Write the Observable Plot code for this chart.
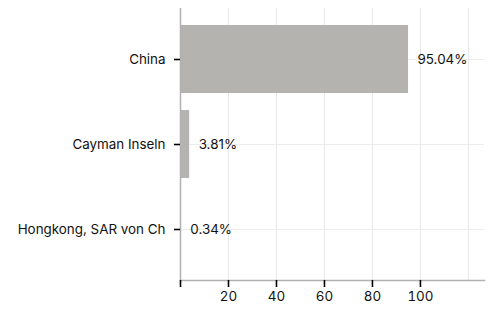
<!DOCTYPE html>
<html>
<head>
<meta charset="utf-8">
<script src="https://cdn.jsdelivr.net/npm/d3@7"></script>
<script src="https://cdn.jsdelivr.net/npm/@observablehq/plot@0.6"></script>
<style>
  html, body { margin: 0; padding: 0; background: #fff; }
  svg { font-family: Inter, "Noto Sans", sans-serif; }
</style>
</head>
<body>
<div id="chart"></div>
<script>
const categories = ["China", "Cayman Inseln", "Hongkong, SAR von Ch"];
const values = [95.04, 3.81, 0.34];
const labels = ["95.04%", "3.81%", "0.34%"];
const xTicks = [0, 20, 40, 60, 80, 100];
const xGrid = [20, 40, 60, 80, 100, 120];

const data = categories.map((c, i) => ({ cat: c, value: values[i], label: labels[i] }));

const chart = Plot.plot({
  width: 492,
  height: 311,
  marginTop: 8,
  marginBottom: 31,
  marginLeft: 180,
  marginRight: 8,
  style: { fontSize: "13.4px", fontFamily: "Inter, 'Noto Sans', sans-serif", color: "#111", background: "#fff" },
  x: { domain: [0, 126.7] },
  y: { domain: categories, padding: 0.2 },
  marks: [
    Plot.gridX(xGrid, { stroke: "#e8e8e8", strokeOpacity: 1, strokeWidth: 1 }),
    Plot.gridY(categories, { stroke: "#ececec", strokeOpacity: 1, strokeWidth: 1 }),
    Plot.barX(data, { x: "value", y: "cat", fill: "#b4b3af" }),
    Plot.text(data, { x: "value", y: "cat", text: "label", textAnchor: "start", dx: 9, fill: "#111", fontSize: 13.4 }),
    Plot.ruleX([0], { stroke: "#b0b0b0", strokeWidth: 1.5 }),
    Plot.frame({ anchor: "bottom", stroke: "#b0b0b0", strokeWidth: 1.5 }),
    Plot.axisX(xTicks, { tickSize: 7, tickPadding: 4, strokeWidth: 1.6, stroke: "#000", tickFormat: d => d === 0 ? "" : String(d), label: null, fontSize: 13.4 }),
    Plot.axisY({ tickSize: 6, tickPadding: 9, strokeWidth: 1.6, stroke: "#000", label: null, fontSize: 13.4 })
  ]
});
document.getElementById("chart").appendChild(chart);
</script>
</body>
</html>
